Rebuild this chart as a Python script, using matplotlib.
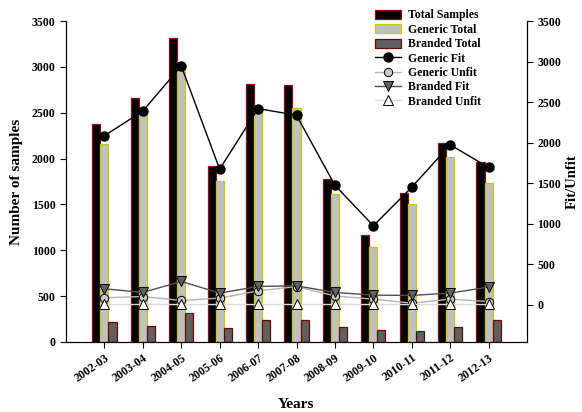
import matplotlib
matplotlib.use("Agg")
import matplotlib.pyplot as plt
import numpy as np
from matplotlib.patches import Patch
from matplotlib.lines import Line2D

plt.rcParams['font.family'] = ['Liberation Serif', 'DejaVu Serif']
plt.rcParams['font.weight'] = 'bold'

years = ["2002-03", "2003-04", "2004-05", "2005-06", "2006-07", "2007-08",
         "2008-09", "2009-10", "2010-11", "2011-12", "2012-13"]
total_samples = [2380, 2660, 3320, 1920, 2810, 2800, 1775, 1170, 1630, 2170, 1965]
generic_total = [2160, 2480, 2990, 1760, 2570, 2555, 1615, 1040, 1510, 2015, 1730]
branded_total = [215, 175, 313, 156, 236, 240, 160, 131, 116, 160, 236]
generic_fit = [2085, 2390, 2945, 1673, 2420, 2338, 1475, 975, 1450, 1974, 1694]
generic_unfit = [87, 103, 54, 83, 173, 225, 110, 70, 21, 70, 41]
branded_fit = [198, 153, 289, 145, 227, 235, 153, 120, 116, 145, 219]
branded_unfit = [10, 10, 10, 10, 10, 10, 10, 10, 10, 10, 10]

fig = plt.figure(figsize=(5.82, 4.12), dpi=100)
ax = fig.add_axes([66/582, 1-342/412, (527-66)/582, (342-21)/412])
ax2 = ax.twinx()

x = np.arange(len(years))
w = 0.21
ax.bar(x - w, total_samples, width=w, color='black', edgecolor='#8b1010', linewidth=0.9, zorder=2)
ax.bar(x, generic_total, width=w, color='#c0c0c0', edgecolor='#c8c800', linewidth=0.9, zorder=2)
ax.bar(x + w, branded_total, width=w, color='#606060', edgecolor='#700000', linewidth=0.9, zorder=2)

ax2.plot(x, generic_fit, color='black', lw=1.0, marker='o', ms=6.5, mfc='black', mec='black')
ax2.plot(x, generic_unfit, color='#b4b4b4', lw=1.0, marker='o', ms=6, mfc='#c8c8c8', mec='black', mew=0.7)
ax2.plot(x, branded_fit, color='#505050', lw=1.0, marker='v', ms=6.5, mfc='#606060', mec='black', mew=0.7)
ax2.plot(x, branded_unfit, color='#dcdcdc', lw=1.0, marker='^', ms=6.5, mfc='white', mec='black', mew=0.7)

ax.set_xlim(-1, 11)
ax.set_ylim(0, 3500)
ax2.set_ylim(-458, 3500)
ax.set_yticks(np.arange(0, 3501, 500))
ax2.set_yticks(np.arange(0, 3501, 500))
ax.set_xticks(x)
ax.set_xticklabels(years, rotation=35, ha='right', rotation_mode='anchor')

for a in (ax, ax2):
    a.spines['top'].set_visible(False)
    a.tick_params(direction='out', length=4, width=0.8, labelsize=8.5)
    for lab in a.get_yticklabels() + a.get_xticklabels():
        lab.set_fontweight('bold')
ax.tick_params(axis='x', pad=3)

ax.set_ylabel('Number of samples', fontsize=11, fontweight='bold', labelpad=6)
ax.set_xlabel('Years', fontsize=11, fontweight='bold', labelpad=10)
ax2.set_ylabel('Fit/Unfit', fontsize=10.5, fontweight='bold', labelpad=3)

handles = [
    Patch(facecolor='black', edgecolor='#8b1010', lw=0.9),
    Patch(facecolor='#c0c0c0', edgecolor='#c8c800', lw=0.9),
    Patch(facecolor='#606060', edgecolor='#700000', lw=0.9),
    Line2D([], [], color='black', lw=1.0, marker='o', ms=6.5, mfc='black', mec='black'),
    Line2D([], [], color='#b4b4b4', lw=1.0, marker='o', ms=6, mfc='#c8c8c8', mec='black', mew=0.7),
    Line2D([], [], color='#505050', lw=1.0, marker='v', ms=6.5, mfc='#606060', mec='black', mew=0.7),
    Line2D([], [], color='#dcdcdc', lw=1.0, marker='^', ms=6.5, mfc='white', mec='black', mew=0.7),
]
labels = ['Total Samples', 'Generic Total', 'Branded Total', 'Generic Fit',
          'Generic Unfit', 'Branded Fit', 'Branded Unfit']
fig.legend(handles, labels, loc='upper left', bbox_to_anchor=(0.628, 1.0),
           frameon=False, prop={'weight': 'bold', 'size': 8.5},
           handlelength=2.2, handleheight=0.8, labelspacing=0.2, handletextpad=0.6,
           borderpad=0.3)

fig.savefig('out.png', dpi=100)
